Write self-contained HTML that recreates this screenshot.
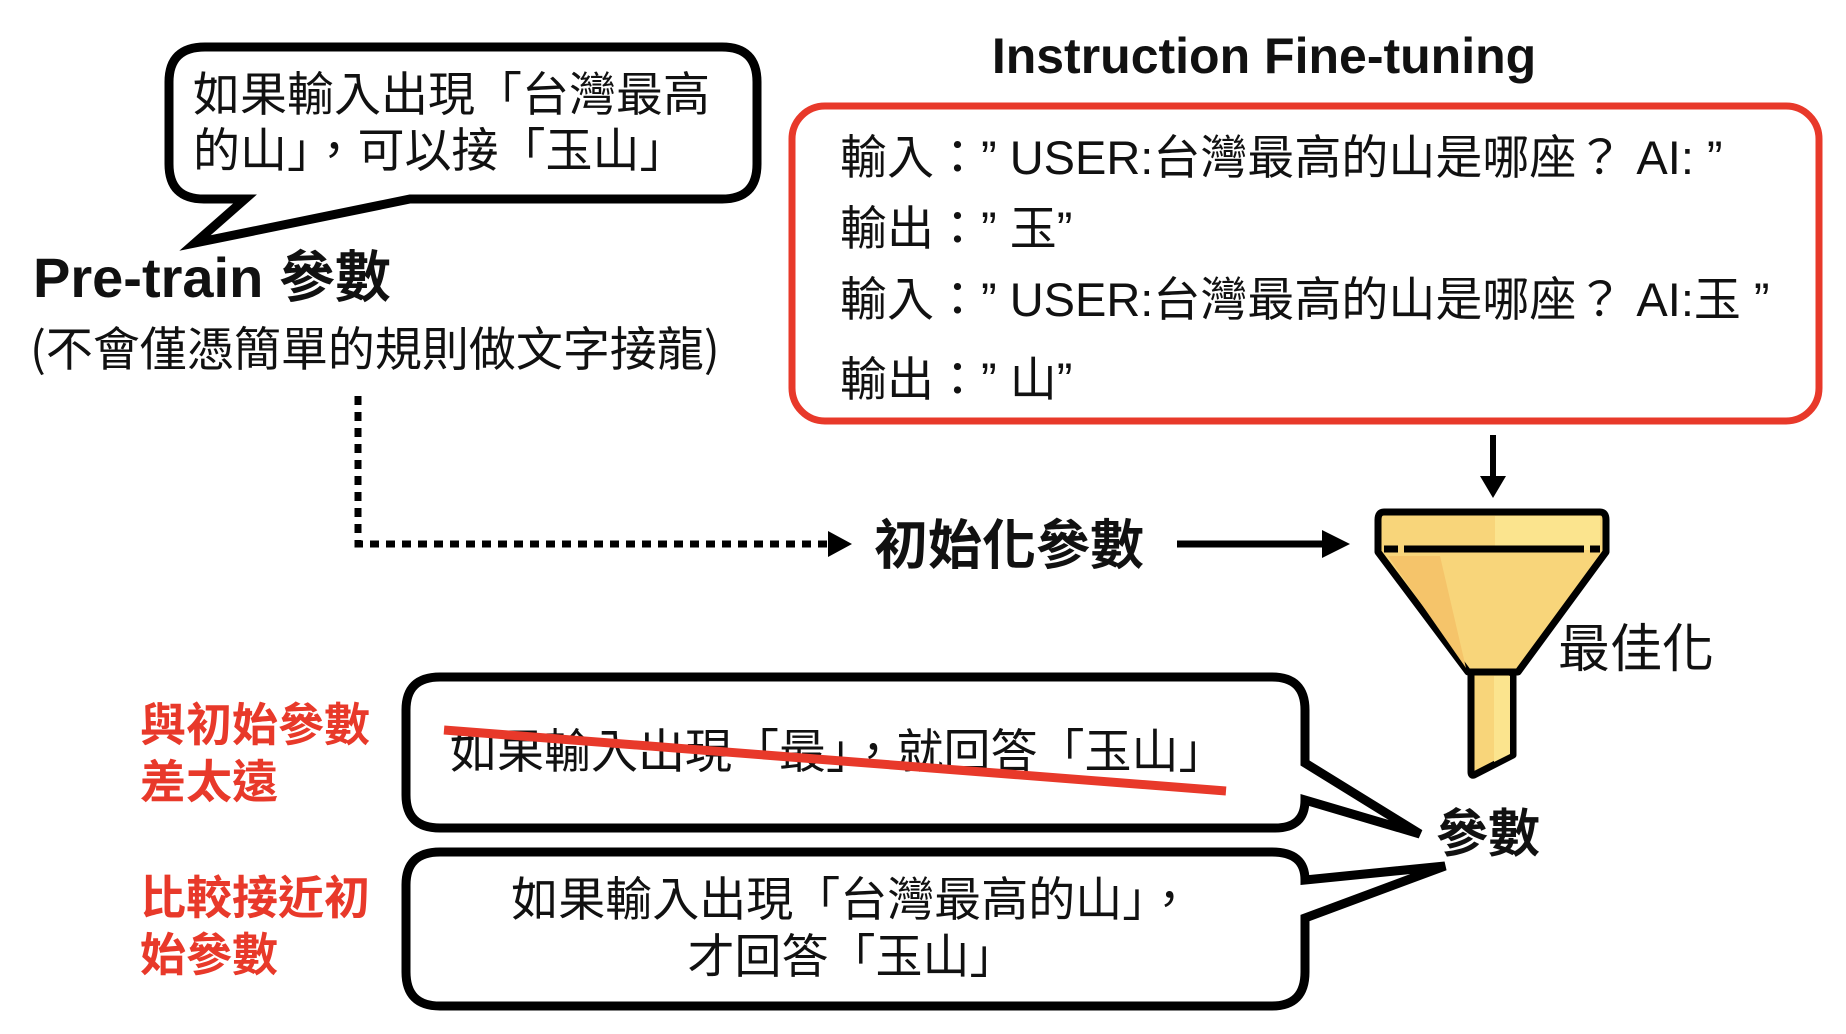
<!DOCTYPE html>
<html><head><meta charset="utf-8"><style>
html,body{margin:0;padding:0;background:#fff;}
svg{display:block;}
text{font-family:"Liberation Sans","Noto Sans CJK TC",sans-serif;}
.cjk{font-family:"Noto Sans CJK TC",sans-serif;}
</style></head><body>
<svg width="1846" height="1034" viewBox="0 0 1846 1034" xmlns="http://www.w3.org/2000/svg">
<path d="M205,47 H722 Q757,47 757,82 V164 Q757,199 722,199 H410 L195,243 L245,199 H204 Q169,199 169,164 V82 Q169,47 205,47 Z" fill="#fff" stroke="#000" stroke-width="9" stroke-linejoin="miter"/>
<text class="cjk" x="193" y="111" font-size="47" fill="#111">如果輸入出現「台灣最高</text>
<text class="cjk" x="193" y="167" font-size="47" fill="#111">的山」，可以接「玉山」</text>
<text x="33" y="297" font-size="56" font-weight="bold" fill="#111">Pre-train <tspan class="cjk">參數</tspan></text>
<text class="cjk" x="30" y="366" font-size="47" fill="#111">(不會僅憑簡單的規則做文字接龍)</text>
<path d="M358,396 V544 H830" fill="none" stroke="#000" stroke-width="7" stroke-dasharray="9,7"/>
<polygon points="828,531 852,544 828,557" fill="#000"/>
<text class="cjk" x="874" y="564" font-size="54" font-weight="bold" fill="#111">初始化參數</text>
<line x1="1177" y1="544" x2="1325" y2="544" stroke="#000" stroke-width="7"/>
<polygon points="1322,530 1350,544 1322,558" fill="#000"/>
<text x="1264" y="73" font-size="50" font-weight="bold" text-anchor="middle" fill="#111">Instruction Fine-tuning</text>
<rect x="792" y="106" width="1027" height="315" rx="33" fill="#fff" stroke="#e8392a" stroke-width="7"/>
<g class="cjk" font-size="47" fill="#111">
<text x="840" y="174">輸入：”  USER:台灣最高的山是哪座？ AI: ”</text>
<text x="840" y="245">輸出：”  玉”</text>
<text x="840" y="316">輸入：”  USER:台灣最高的山是哪座？ AI:玉 ”</text>
<text x="840" y="396">輸出：”  山”</text>
</g>
<line x1="1493" y1="435" x2="1493" y2="480" stroke="#000" stroke-width="6"/>
<polygon points="1480,476 1506,476 1493,498" fill="#000"/>
<path d="M1384,512 H1600 Q1606,512 1606,520 V552 L1518,672 H1468 L1378,552 V520 Q1378,512 1384,512 Z" fill="#f8d57a" stroke="#000" stroke-width="7" stroke-linejoin="round"/>
<path d="M1388,556 L1466,668 L1440,556 Z" fill="#f5c46a"/>
<path d="M1495,516 H1600 V550 H1495 Z" fill="#fbe48e"/>
<line x1="1384" y1="549" x2="1600" y2="549" stroke="#000" stroke-width="7" stroke-dasharray="14,6,180,6,14"/>
<path d="M1471,672 H1513 V755 L1474,775 Q1471,776 1471,772 Z" fill="#f8d57a" stroke="#000" stroke-width="7" stroke-linejoin="round"/>
<path d="M1494,676 H1510 V754 L1494,762 Z" fill="#fbe48e"/>
<text class="cjk" x="1558" y="667" font-size="52" fill="#111">最佳化</text>
<text class="cjk" x="1436" y="852" font-size="52" font-weight="bold" fill="#111">參數</text>
<path d="M440,677 H1272 Q1305,677 1305,710 V763 L1420,834 L1305,800 Q1305,828 1275,828 H440 Q406,828 406,795 V710 Q406,677 440,677 Z" fill="#fff" stroke="#000" stroke-width="9"/>
<text class="cjk" x="450" y="768" font-size="47" fill="#111">如果輸入出現「最」，就回答「玉山」</text>
<line x1="444" y1="730" x2="1226" y2="791" stroke="#e8392a" stroke-width="9"/>
<path d="M440,852 H1272 Q1305,852 1305,880 L1445,866 L1305,918 V972 Q1305,1006 1272,1006 H440 Q406,1006 406,972 V885 Q406,852 440,852 Z" fill="#fff" stroke="#000" stroke-width="9"/>
<text class="cjk" x="852" y="916" font-size="47" fill="#111" text-anchor="middle">如果輸入出現「台灣最高的山」，</text>
<text class="cjk" x="852" y="973" font-size="47" fill="#111" text-anchor="middle">才回答「玉山」</text>
<g class="cjk" font-size="46" font-weight="bold" fill="#e8392a">
<text x="140" y="741">與初始參數</text>
<text x="140" y="798">差太遠</text>
<text x="140" y="914">比較接近初</text>
<text x="140" y="971">始參數</text>
</g>
</svg>
</body></html>
